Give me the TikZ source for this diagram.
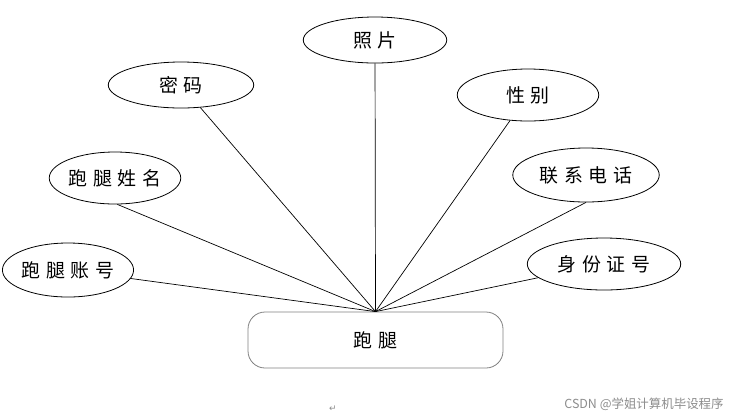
\documentclass[tikz,border=0pt]{standalone}
\usepackage{fontspec}
\newfontfamily\cjk{Noto Sans CJK SC}
\newfontfamily\cjkwide[LetterSpace=30]{Noto Sans CJK SC}
\newfontfamily\symfont{DejaVu Sans}
\usetikzlibrary{shapes.geometric}

\begin{document}
\begin{tikzpicture}[
    x=1bp, y=-1bp,
    font=\cjkwide\fontsize{19}{22}\selectfont,
    attr/.style={draw, ellipse, line width=0.8bp, inner sep=0pt, minimum width=#1},
    attr/.default=142,
    entity/.style={draw=black!50, rounded corners=17bp, line width=0.8bp, minimum width=255bp, minimum height=56bp},
    link/.style={line width=0.7bp}
]
\useasboundingbox (0,0) rectangle (741,417);

\node[entity] (paotui) at (375.5,340) {跑腿};

\node[attr=144, minimum height=46bp] (zhaopian) at (375,40) {照片};
\node[attr=146, minimum height=46bp] (mima) at (181,85) {密码};
\node[attr=142, minimum height=52bp] (xingbie) at (528,95) {性别};
\node[attr=132, minimum height=52bp] (xingming) at (115,178) {跑腿姓名};
\node[attr=147, minimum height=54bp] (dianhua) at (586,175) {联系电话};
\node[attr=128, minimum height=54bp] (zhanghao) at (68,270) {跑腿账号};
\node[attr=154, minimum height=52bp] (shenfen) at (604,264) {身份证号};

\draw[link] (zhaopian) -- (paotui.north);
\draw[link] (mima) -- (paotui.north);
\draw[link] (xingbie) -- (paotui.north);
\draw[link] (xingming.-85) -- (paotui.north);
\draw[link] (dianhua.south) -- (paotui.north);
\draw[link] (zhanghao) -- (paotui.north);
\draw[link] (shenfen) -- (paotui.north);

\node[text=black!45, font=\symfont\fontsize{9}{10}\selectfont] (ret) at (333,409) {↵};
\node[text=black!45, font=\cjk\fontsize{12.5}{14}\selectfont] (mark) at (644,404) {CSDN @学姐计算机毕设程序};
\end{tikzpicture}
\end{document}
